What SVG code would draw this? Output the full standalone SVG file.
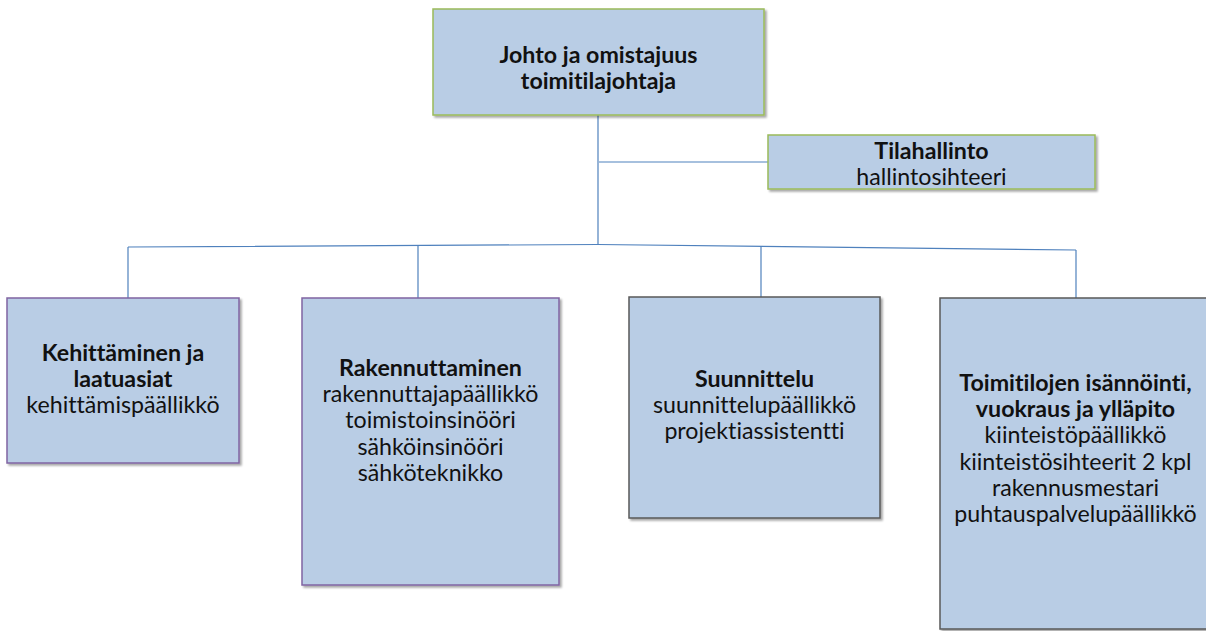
<svg xmlns="http://www.w3.org/2000/svg" width="1206" height="631" viewBox="0 0 1206 631">
  <defs>
    <filter id="shadow" x="-5%" y="-5%" width="115%" height="115%">
      <feGaussianBlur in="SourceAlpha" stdDeviation="1.2"/>
      <feOffset dx="1.5" dy="2" result="off"/>
      <feComponentTransfer><feFuncA type="linear" slope="0.35"/></feComponentTransfer>
      <feMerge><feMergeNode/><feMergeNode in="SourceGraphic"/></feMerge>
    </filter>
  </defs>
  <style>
    .box { fill: #b9cde5; stroke-width: 1.5; filter: url(#shadow); }
    .green { stroke: #9bbb59; }
    .purple { stroke: #8064a2; }
    .grey { stroke: #595959; }
    .link { fill: none; stroke: #4f81bd; stroke-width: 1.2; }
    text { font-family: Lato, "Liberation Sans", sans-serif; font-size: 23.2px; fill: #111; text-anchor: middle; font-variant-ligatures: none; }
    .b { font-weight: bold; }
  </style>
  <rect width="1206" height="631" fill="#ffffff"/>

  <!-- connectors -->
  <g id="connectors">
    <line class="link" x1="598" y1="115" x2="598" y2="245"/>
    <line class="link" x1="599" y1="162" x2="768" y2="162"/>
    <polyline class="link" points="128,247 598,244.5 1076,250"/>
    <line class="link" x1="128" y1="247" x2="128" y2="298"/>
    <line class="link" x1="418" y1="245" x2="418" y2="298"/>
    <line class="link" x1="761" y1="246" x2="761" y2="297"/>
    <line class="link" x1="1076" y1="250" x2="1076" y2="298"/>
  </g>

  <g id="johto">
    <rect class="box green" x="433" y="9" width="331" height="106"/>
    <text class="b" x="598.5" y="63">Johto ja omistajuus</text>
    <text class="b" x="598.5" y="89">toimitilajohtaja</text>
  </g>

  <g id="tilahallinto">
    <rect class="box green" x="768" y="135" width="327" height="54"/>
    <text class="b" x="931.5" y="159">Tilahallinto</text>
    <text x="931.5" y="185">hallintosihteeri</text>
  </g>

  <g id="kehittaminen">
    <rect class="box purple" x="7" y="298" width="232" height="165"/>
    <text class="b" x="123" y="361">Kehittäminen ja</text>
    <text class="b" x="123" y="387">laatuasiat</text>
    <text x="123" y="413">kehittämispäällikkö</text>
  </g>

  <g id="rakennuttaminen">
    <rect class="box purple" x="302" y="298" width="257" height="287"/>
    <text class="b" x="430.5" y="376">Rakennuttaminen</text>
    <text x="430.5" y="402">rakennuttajapäällikkö</text>
    <text x="430.5" y="428">toimistoinsinööri</text>
    <text x="430.5" y="455">sähköinsinööri</text>
    <text x="430.5" y="481">sähköteknikko</text>
  </g>

  <g id="suunnittelu">
    <rect class="box grey" x="629" y="297" width="251" height="221"/>
    <text class="b" x="754.5" y="387">Suunnittelu</text>
    <text x="754.5" y="413">suunnittelupäällikkö</text>
    <text x="754.5" y="439">projektiassistentti</text>
  </g>

  <g id="toimitilat">
    <rect class="box grey" x="940" y="298" width="275" height="331"/>
    <text class="b" x="1075.5" y="391">Toimitilojen isännöinti,</text>
    <text class="b" x="1075.5" y="417">vuokraus ja ylläpito</text>
    <text x="1075.5" y="443">kiinteistöpäällikkö</text>
    <text x="1075.5" y="470">kiinteistösihteerit 2 kpl</text>
    <text x="1075.5" y="496">rakennusmestari</text>
    <text x="1075.5" y="522">puhtauspalvelupäällikkö</text>
  </g>
</svg>
